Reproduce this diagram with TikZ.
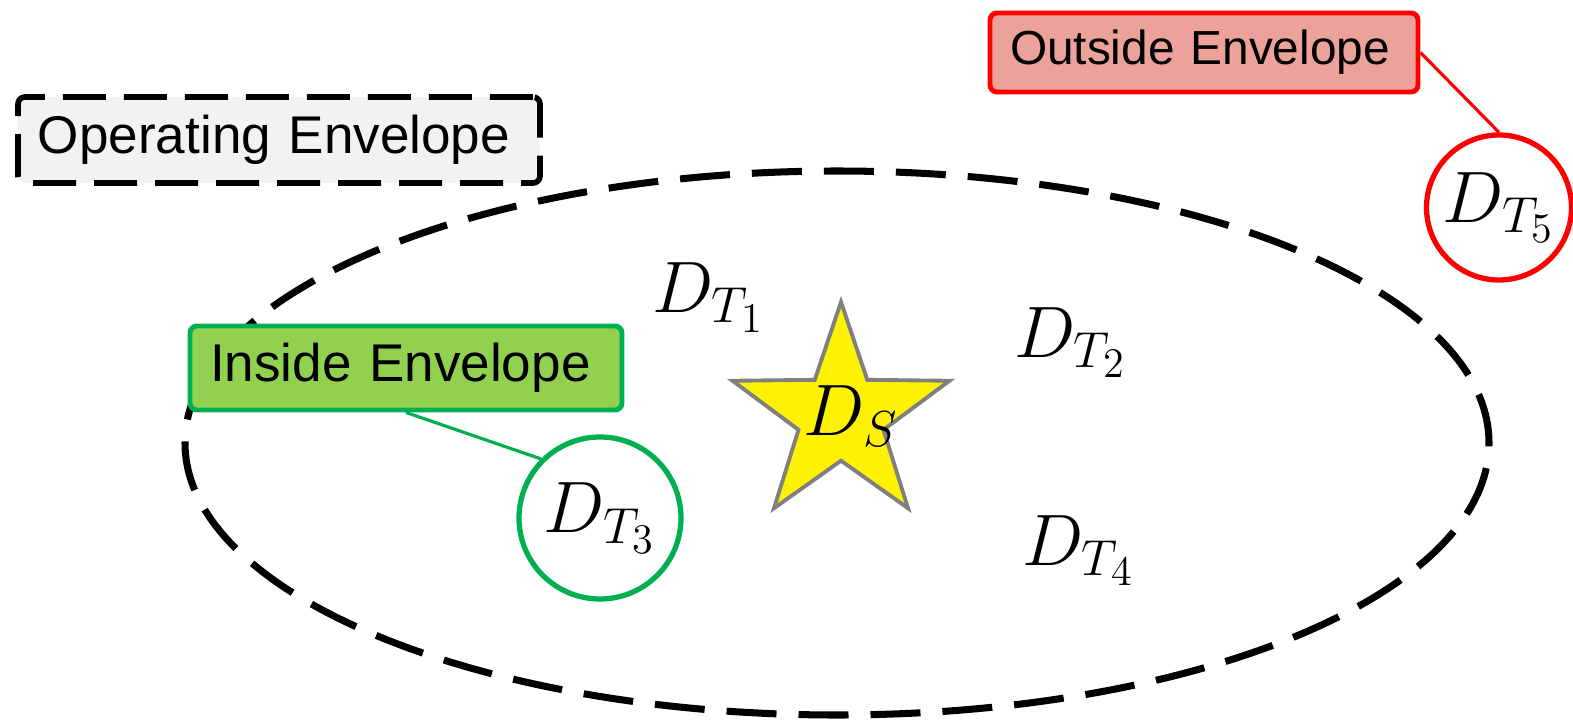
\documentclass[tikz,border=0pt]{standalone}
\usepackage{fontspec}
\newfontfamily\boxfont{Liberation Sans}
\usetikzlibrary{shapes.geometric}
\definecolor{LGr}{RGB}{242,242,242}
\definecolor{LR}{RGB}{236,162,154}
\definecolor{LG}{RGB}{146,208,80}
\definecolor{DGn}{RGB}{0,176,80}
\definecolor{SG}{RGB}{128,128,128}

\begin{document}
\begin{tikzpicture}[
  tag/.style 2 args={draw=#1, fill=#2, line width=1.4pt, rounded corners=2pt,
              minimum height=0.8cm, inner xsep=0.2cm, align=left,
              font=\boxfont\fontsize{15.1}{18}\selectfont},
  ring/.style={circle, draw=#1, line width=1.5pt, inner sep=0pt,
              font=\fontsize{20.74}{25}\selectfont},
  lnk/.style={draw=#1, line width=0.9pt},
  dlbl/.style={anchor=base west, inner sep=0pt, font=\fontsize{20.74}{25}\selectfont},
  env/.style={line width=2pt, dash pattern=on 0.5cm off 0.22cm}
]
\useasboundingbox (0,0) rectangle (15.73,7.21);

\draw[env] (8.37,2.78) ellipse [x radius=6.52, y radius=2.72];

\node[tag={black}{LGr}, line width=1.6pt, dash pattern=on 0.43cm off 0.18cm, text width=4.82cm, minimum height=0.86cm]
  (op) at (2.79,5.81) {\mbox{Operating Envelope}};
\node[tag={red}{LR}, text width=3.88cm, minimum height=0.79cm,
      font=\boxfont\fontsize{13.6}{16}\selectfont]
  (out) at (12.04,6.685) {\mbox{Outside Envelope}};
\node[tag={DGn}{LG}, text width=3.92cm, minimum height=0.84cm]
  (in) at (4.06,3.53) {\mbox{Inside Envelope}};

\node[ring=DGn, minimum size=1.62cm] (t3) at (6.00,2.03) {$D_{T_3}$};
\node[ring=red, minimum size=1.45cm] (t5) at (14.99,5.135) {$D_{T_5}$};

\node[star, star points=5, star point ratio=2.55, minimum size=2.28cm, inner sep=0pt,
      draw=SG, fill=yellow, line width=1.1pt] (ds) at (8.41,3.05) {};
\node[inner sep=0pt, font=\fontsize{20.74}{25}\selectfont] (dsl) at ([xshift=0.1cm]ds.center) {$D_S$};

\node[dlbl] (t1) at (6.52,4.09) {$D_{T_1}$};
\node[dlbl] (t2) at (10.14,3.64) {$D_{T_2}$};
\node[dlbl] (t4) at (10.22,1.56) {$D_{T_4}$};

\draw[lnk=DGn] (in.south) -- (t3.135);
\draw[lnk=red] (out.east) -- (t5.north);
\end{tikzpicture}
\end{document}
